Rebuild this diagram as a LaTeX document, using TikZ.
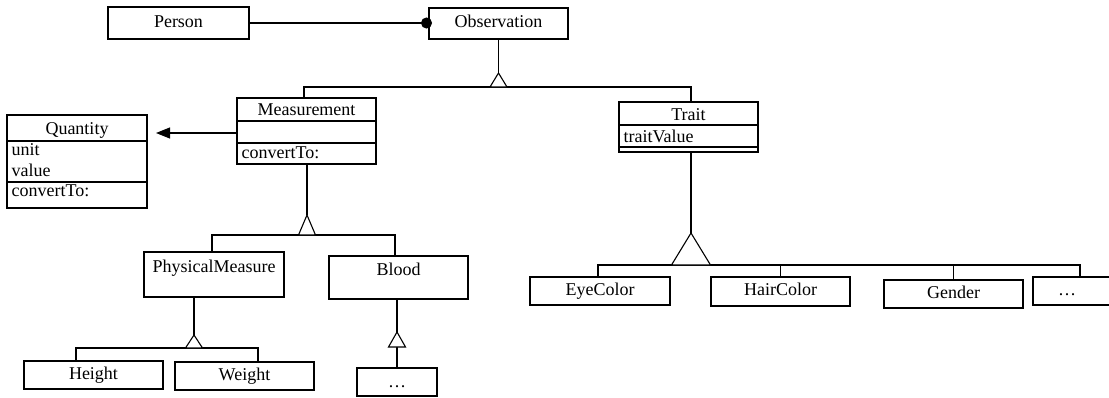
\documentclass[tikz,border=0pt]{standalone}
\usepackage{fontspec}
\setmainfont{Liberation Serif}
\usetikzlibrary{arrows.meta}
\begin{document}
\begin{tikzpicture}[x=1pt,y=-1pt,
  line width=1.1pt,
  every node/.style={font=\fontsize{18}{20}\selectfont},
  box/.style={draw, anchor=north west, inner sep=0pt, outer sep=0pt, text height=12pt, text depth=4pt},
  lbl/.style={inner sep=0pt, anchor=base},
  attr/.style={inner sep=0pt, anchor=base west},
  gen/.style={draw, fill=white, line join=miter},
]
\useasboundingbox (0,0) rectangle (1109,397);

% top
\node[box, minimum width=141pt, minimum height=32pt] (person) at (108,7) {Person};
\node[box, minimum width=139pt, minimum height=31pt] (obs) at (429,8) {Observation};
\draw[-{Circle[length=11pt,width=11pt]}, shorten >=-3pt] (person.east) -- (person.east -| obs.west);

% Measurement
\node[box, minimum width=139pt, minimum height=66pt] (meas) at (237,98) {};
\draw ([yshift=-23pt]meas.north west) -- ([yshift=-23pt]meas.north east);
\draw ([yshift=-45pt]meas.north west) -- ([yshift=-45pt]meas.north east);
\node[lbl] (measT) at ([yshift=-17pt]meas.north) {Measurement};
\node[attr] (measOp) at ([xshift=4pt,yshift=-60pt]meas.north west) {convertTo:};

% Trait
\node[box, minimum width=139pt, minimum height=50pt] (trait) at (619,102) {};
\draw ([yshift=-23pt]trait.north west) -- ([yshift=-23pt]trait.north east);
\draw ([yshift=-45pt]trait.north west) -- ([yshift=-45pt]trait.north east);
\node[lbl] (traitT) at ([yshift=-18pt]trait.north) {Trait};
\node[attr] (traitA) at ([xshift=4pt,yshift=-40pt]trait.north west) {traitValue};

% Quantity
\node[box, minimum width=140pt, minimum height=93pt] (qty) at (7,115) {};
\draw ([yshift=-26pt]qty.north west) -- ([yshift=-26pt]qty.north east);
\draw ([yshift=-67pt]qty.north west) -- ([yshift=-67pt]qty.north east);
\node[lbl] (qtyT) at ([yshift=-19pt]qty.north) {Quantity};
\node[attr] (qtyA1) at ([xshift=4pt,yshift=-40pt]qty.north west) {unit};
\node[attr] (qtyA2) at ([xshift=4pt,yshift=-61pt]qty.north west) {value};
\node[attr] (qtyOp) at ([xshift=4pt,yshift=-81pt]qty.north west) {convertTo:};

\coordinate (mq) at ([yshift=-35pt]meas.north west);
\draw[-{Triangle[length=14pt,width=11pt]}, shorten >=9pt] (mq) -- (mq -| qty.east);

% generalization Observation
\draw (obs.south) -- ++(0,34) coordinate (g1);
\path (g1) ++(0,14) coordinate (b1);
\draw ([xshift=-2.5pt]meas.north) |- (b1) -| ([xshift=2.5pt]trait.north);
\draw[gen] (g1) -- ++(-8.5,14) -- ++(17,0) -- cycle;

% second level
\node[box, minimum width=140pt, minimum height=45pt] (pm) at (144,252) {};
\node[lbl] (pmT) at ([yshift=-20pt]pm.north) {PhysicalMeasure};
\node[box, minimum width=139pt, minimum height=43pt] (blood) at (329,256) {};
\node[lbl] (bloodT) at ([yshift=-19pt]blood.north) {Blood};

\draw ([xshift=0.5pt]meas.south) -- ++(0,51) coordinate (g2);
\path (g2) ++(0,20) coordinate (b2);
\draw ([xshift=-2pt]pm.north) |- (b2) -| ([xshift=-3.5pt]blood.north);
\draw[gen] (g2) -- ++(-8.5,20) -- ++(17,0) -- cycle;

% third level (PhysicalMeasure)
\node[box, minimum width=139pt, minimum height=28pt] (height) at (24,361) {Height};
\node[box, minimum width=139pt, minimum height=28pt] (weight) at (175,362) {Weight};
\draw ([xshift=-20pt]pm.south) -- ++(0,38) coordinate (g3);
\path (g3) ++(0,13) coordinate (b3);
\draw ([xshift=-17.5pt]height.north) |- (b3) -| ([xshift=13.5pt]weight.north);
\draw[gen] (g3) -- ++(-8.5,13) -- ++(17,0) -- cycle;

% Blood subclasses
\node[box, minimum width=80pt, minimum height=28pt] (bdots) at (357,368) {};
\node[lbl] (bdotsT) at ([yshift=-19pt]bdots.north) {…};
\draw ([xshift=-1.5pt]blood.south) -- ++(0,33) coordinate (g4);
\path (g4) ++(0,15) coordinate (b4);
\draw (b4) -- (bdots.north);
\draw[gen] (g4) -- ++(-8.5,15) -- ++(17,0) -- cycle;

% Trait subclasses
\node[box, minimum width=140pt, minimum height=28pt] (eye) at (530,277) {EyeColor};
\node[box, minimum width=139pt, minimum height=29pt] (hair) at (711,277) {HairColor};
\node[box, minimum width=139pt, minimum height=28pt] (gender) at (884,280) {Gender};
\node[box, minimum width=94pt, minimum height=28pt] (rdots) at (1033,277) {};
\node[lbl] (rdotsT) at (1067,295) {…};
\draw ([xshift=2.5pt]trait.south) -- ++(0,81) coordinate (g5);
\path (g5) ++(0,32) coordinate (b5);
\draw ([xshift=-2pt]eye.north) |- (b5) -| (rdots.north);
\draw (hair.north) -- (hair.north |- b5);
\draw (gender.north) -- (gender.north |- b5);
\draw[gen] (g5) -- ++(-19.5,32) -- ++(39,0) -- cycle;
\end{tikzpicture}
\end{document}
